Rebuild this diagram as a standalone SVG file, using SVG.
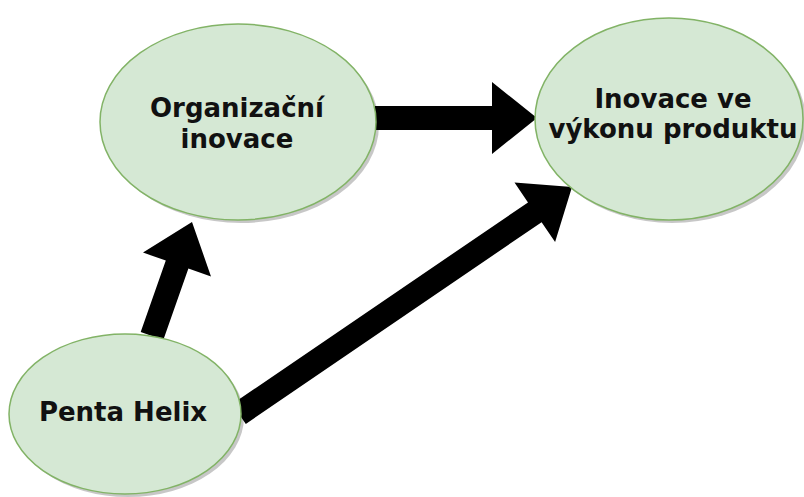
<svg xmlns="http://www.w3.org/2000/svg" width="804" height="497" viewBox="0 0 804 497">
<style>
.node{fill:#d5e8d4;stroke:#82b366;stroke-width:1.5}
.shadow{fill:#000;opacity:0.22}
.lbl{font-family:"DejaVu Sans",Verdana,sans-serif;font-weight:bold;font-size:26px;fill:#111;text-anchor:middle}
.arrow{fill:#000;stroke:none}
</style>
<rect width="804" height="497" fill="#fff"/>
<g id="connectors">
<polygon class="arrow" points="375,106 492,106 492,82 537,118 492,154 492,130 375,130"/>
<polygon class="arrow" points="140.7,332 165.8,260.5 143,252.6 192,222 211,276.4 188.4,268.5 163.3,340"/>
<polygon class="arrow" points="232.2,404.1 528,202.4 514.5,182.6 572,187 555.1,242 541.6,222.2 245.8,423.9"/>
</g>
<g id="node-organizacni">
<ellipse class="shadow" cx="241" cy="125" rx="138" ry="98"/>
<ellipse class="node" cx="238" cy="122" rx="138" ry="98"/>
<text class="lbl" x="237" y="117">Organizační</text>
<text class="lbl" x="237" y="148">inovace</text>
</g>
<g id="node-inovace">
<ellipse class="shadow" cx="672" cy="122" rx="134" ry="101"/>
<ellipse class="node" cx="669" cy="119" rx="134" ry="101"/>
<text class="lbl" x="673" y="108">Inovace ve</text>
<text class="lbl" x="673" y="138">výkonu produktu</text>
</g>
<g id="node-penta">
<ellipse class="shadow" cx="128" cy="417" rx="116" ry="80"/>
<ellipse class="node" cx="125" cy="414" rx="116" ry="80"/>
<text class="lbl" x="123" y="421">Penta Helix</text>
</g>
</svg>
